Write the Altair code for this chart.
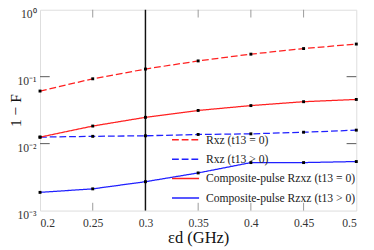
import altair as alt
import pandas as pd

eps = [0.2, 0.25, 0.3, 0.35, 0.4, 0.45, 0.5]
rxz_t0 = [0.061, 0.093, 0.130, 0.172, 0.217, 0.263, 0.307]
rxz_tpos = [0.0125, 0.01285, 0.0131, 0.0137, 0.0140, 0.0148, 0.0159]
comp_t0 = [0.0125, 0.0183, 0.0247, 0.0313, 0.0370, 0.0423, 0.0457]
comp_tpos = [0.00187, 0.00211, 0.0027, 0.00365, 0.00521, 0.00521, 0.0054]

series_names = [
    "Rxz (t13 = 0)",
    "Rxz (t13 > 0)",
    "Composite-pulse Rzxz (t13 = 0)",
    "Composite-pulse Rzxz (t13 > 0)",
]
series_colors = ["#ff2020", "#2020ff", "#ff2020", "#2020ff"]
series_dash = [[7, 3], [7, 3], [1, 0], [1, 0]]

x_ticks = [0.2, 0.25, 0.3, 0.35, 0.4, 0.45, 0.5]
x_inner_ticks = [0.25, 0.35, 0.4, 0.45]
y_ticks = [0.001, 0.01, 0.1, 1]
y_inner_ticks = [0.01, 0.1]
marker_x = [0.3]

W, H = 326, 207

rows = []
for name, vals in zip(series_names, [rxz_t0, rxz_tpos, comp_t0, comp_tpos]):
    for e, v in zip(eps, vals):
        rows.append({"eps": e, "val": v, "series": name})
df = pd.DataFrame(rows)

xscale = alt.Scale(domain=[0.2, 0.5], nice=False, zero=False)
yscale = alt.Scale(type="log", domain=[0.001, 1], nice=False)

legend = alt.Legend(
    title=None, orient="none", legendX=140, legendY=124,
    symbolType="M-1.55,0H1.55", symbolSize=324, symbolStrokeWidth=1.5,
    labelFont="Liberation Serif", labelFontSize=12, labelColor="#222",
    rowPadding=4, labelOffset=11,
)

color = alt.Color("series:N", scale=alt.Scale(domain=series_names, range=series_colors), legend=legend)
dash = alt.StrokeDash("series:N", scale=alt.Scale(domain=series_names, range=series_dash), legend=legend)

y_label_expr = ("datum.value >= 1 ? '10⁰' : datum.value >= 0.1 ? '10⁻¹' : "
                "datum.value >= 0.01 ? '10⁻²' : '10⁻³'")

lines = alt.Chart(df).mark_line(strokeWidth=1.3).encode(
    x=alt.X("eps:Q", scale=xscale, axis=alt.Axis(
        values=x_ticks, format=".2~f", ticks=False, domain=False, grid=False,
        labelFont="Liberation Serif", labelFontSize=12, labelColor="#333",
        labelPadding=7, title="εd (GHz)", titleFont="Liberation Serif",
        titleFontSize=17, titleFontWeight="normal", titleColor="#111", titlePadding=2)),
    y=alt.Y("val:Q", scale=yscale, axis=alt.Axis(
        values=y_ticks, labelExpr=y_label_expr, ticks=False, domain=False, grid=False,
        labelFont="Liberation Serif", labelFontSize=12, labelColor="#333",
        labelPadding=4, labelBaseline="top", labelOffset=-1,
        title="1 − F", titleFont="Liberation Serif",
        titleFontSize=16, titleFontWeight="normal", titleColor="#111",
        titleX=-17, titleY=H / 2, titleAngle=270, titleBaseline="bottom", titleAlign="center")),
    color=color,
    strokeDash=dash,
    detail="series:N",
)

points = alt.Chart(df).mark_square(size=9, color="black", opacity=1).encode(
    x=alt.X("eps:Q", scale=xscale),
    y=alt.Y("val:Q", scale=yscale),
)

vline = alt.Chart(pd.DataFrame({"eps": marker_x})).mark_rule(color="#111", strokeWidth=1.5).encode(
    x=alt.X("eps:Q", scale=xscale)
)

xt = pd.DataFrame({"eps": x_inner_ticks})
yt = pd.DataFrame({"val": y_inner_ticks})
tick_color = "#999"
bottom_ticks = alt.Chart(xt).mark_rule(color=tick_color, strokeWidth=1).encode(
    x=alt.X("eps:Q", scale=xscale), y=alt.value(H), y2=alt.value(H - 8))
top_ticks = alt.Chart(xt).mark_rule(color=tick_color, strokeWidth=1).encode(
    x=alt.X("eps:Q", scale=xscale), y=alt.value(0), y2=alt.value(8))
left_ticks = alt.Chart(yt).mark_rule(color="#555", strokeWidth=1).encode(
    y=alt.Y("val:Q", scale=yscale), x=alt.value(0), x2=alt.value(10))
right_ticks = alt.Chart(yt).mark_rule(color="#555", strokeWidth=1).encode(
    y=alt.Y("val:Q", scale=yscale), x=alt.value(W - 10), x2=alt.value(W))

chart = alt.layer(
    lines, bottom_ticks, top_ticks, left_ticks, right_ticks, vline, points
).properties(
    width=W, height=H,
    autosize=alt.AutoSizeParams(type="none"),
    padding={"left": 33, "top": -2, "right": 10, "bottom": 42},
).configure_view(stroke="#333", strokeWidth=1).configure(background="white")

chart.save("out.html", embed_options={"renderer": "svg", "actions": False})
